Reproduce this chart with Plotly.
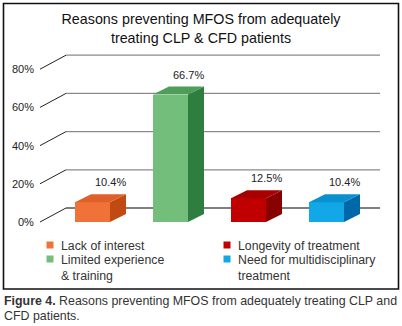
import plotly.graph_objects as go

# ---- data ----
categories = ["Lack of interest", "Limited experience<br>& training",
              "Longevity of treatment", "Need for multidisciplinary<br>treatment"]
values = [10.4, 66.7, 12.5, 10.4]
value_labels = ["10.4%", "66.7%", "12.5%", "10.4%"]
tick_values = [0, 20, 40, 60, 80]
tick_labels = ["0%", "20%", "40%", "60%", "80%"]

front_colors = ["#F07238", "#72BE7A", "#C00000", "#12A8E8"]
top_colors = ["#E0602A", "#4E9E5A", "#A80000", "#0890D0"]
side_colors = ["#C04A12", "#2E7E40", "#880000", "#0068A8"]

# ---- geometry (pixel based mapping) ----
W, H = 402, 326
PX_X = 78.0          # px per category unit
X0_PX = 92.5         # px of category 0 center
PX_Y = 1.91          # px per percent
Y0_PX = 222.0        # px of 0%

FONT = "Liberation Sans, Arial, sans-serif"


def xr():
    return [(-X0_PX) / PX_X, (W - X0_PX) / PX_X]


def yr():
    return [(Y0_PX - H) / PX_Y, Y0_PX / PX_Y]


bar_w = 35 / PX_X
bdx = 16 / PX_X
bdy = 8 / PX_Y
gdx = 26 / PX_X
gdy = 14 / PX_Y
g_front_x = (40 - X0_PX) / PX_X
g_back_x0 = g_front_x + gdx
g_back_x1 = (380 - X0_PX) / PX_X

fig = go.Figure()
shapes = []

# gridlines (back wall + diagonal), below the bars
for v in tick_values:
    col = "#000000" if v == 0 else "#8a8a8a"
    shapes.append(dict(type="line", xref="x", yref="y", layer="below",
                       x0=g_back_x0, x1=g_back_x1, y0=v + gdy, y1=v + gdy,
                       line=dict(color=col, width=1.2)))
    shapes.append(dict(type="line", xref="x", yref="y", layer="below",
                       x0=g_front_x, x1=g_back_x0, y0=v, y1=v + gdy,
                       line=dict(color="#222222", width=1)))

# bars: front faces
fig.add_trace(go.Bar(
    x=list(range(len(values))), y=values, width=bar_w,
    marker=dict(color=front_colors, line=dict(width=0)),
    hoverinfo="skip", showlegend=False))

# bars: side and top faces
for i, v in enumerate(values):
    l = i - bar_w / 2
    r = i + bar_w / 2
    fig.add_trace(go.Scatter(
        x=[r, r + bdx, r + bdx, r, r], y=[0, bdy, v + bdy, v, 0],
        fill="toself", fillcolor=side_colors[i], mode="lines",
        line=dict(width=0, color=side_colors[i]), hoverinfo="skip", showlegend=False))
    fig.add_trace(go.Scatter(
        x=[l, r, r + bdx, l + bdx, l], y=[v, v, v + bdy, v + bdy, v],
        fill="toself", fillcolor=top_colors[i], mode="lines",
        line=dict(width=0, color=top_colors[i]), hoverinfo="skip", showlegend=False))

annotations = []
# value labels
for i, (v, t) in enumerate(zip(values, value_labels)):
    annotations.append(dict(
        x=i + bar_w / 2 + 0.01, y=v + bdy + 2, text=t, showarrow=False,
        xanchor="center", yanchor="bottom",
        font=dict(family=FONT, size=11, color="#222222")))

# tick labels
for v, t in zip(tick_values, tick_labels):
    annotations.append(dict(
        x=(35.5 - X0_PX) / PX_X, y=v, text=t, showarrow=False,
        xanchor="right", yanchor="middle",
        font=dict(family=FONT, size=11, color="#222222")))

# legend (manual, two columns)
leg_pos = [(50, 245), (50, 259), (227, 245), (227, 259)]
for i, (cx, cy) in enumerate(leg_pos):
    shapes.append(dict(type="rect", xref="paper", yref="paper",
                       x0=(cx - 3.5) / W, x1=(cx + 3.5) / W,
                       y0=1 - (cy + 3.5) / H, y1=1 - (cy - 3.5) / H,
                       fillcolor=front_colors[i], line=dict(width=0)))
    annotations.append(dict(
        x=(cx + 9) / W, y=1 - (cy - 8) / H, xref="paper", yref="paper",
        text=categories[i], showarrow=False, xanchor="left", yanchor="top",
        align="left",
        font=dict(family=FONT, size=12.3, color="#333333")))

# border
shapes.append(dict(type="rect", xref="paper", yref="paper",
                   x0=3.5 / W, x1=398.5 / W, y0=1 - 289 / H, y1=1 - 3.5 / H,
                   line=dict(color="#111111", width=1.6), fillcolor="rgba(0,0,0,0)"))

# caption
annotations.append(dict(
    x=2 / W, y=1 - 301 / H, xref="paper", yref="paper", showarrow=False,
    xanchor="left", yanchor="middle",
    text="<b>Figure 4.</b> Reasons preventing MFOS from adequately treating CLP and",
    font=dict(family=FONT, size=12.4, color="#333333")))
annotations.append(dict(
    x=2 / W, y=1 - 316 / H, xref="paper", yref="paper", showarrow=False,
    xanchor="left", yanchor="middle", text="CFD patients.",
    font=dict(family=FONT, size=12.4, color="#333333")))

fig.update_layout(
    width=W, height=H,
    margin=dict(l=0, r=0, t=0, b=0),
    paper_bgcolor="white", plot_bgcolor="white",
    title=dict(text="Reasons preventing MFOS from adequately<br>treating CLP & CFD patients",
               x=0.5, xanchor="center", y=1 - 24 / H, yanchor="middle",
               font=dict(family=FONT, size=14.3, color="#111111")),
    xaxis=dict(range=xr(), visible=False, fixedrange=True),
    yaxis=dict(range=yr(), visible=False, fixedrange=True),
    annotations=annotations, shapes=shapes, showlegend=False,
    bargap=0,
)

fig.write_html("out.html", config={"displayModeBar": False},
               post_script="document.body.style.margin='0';document.body.style.overflow='hidden';")
